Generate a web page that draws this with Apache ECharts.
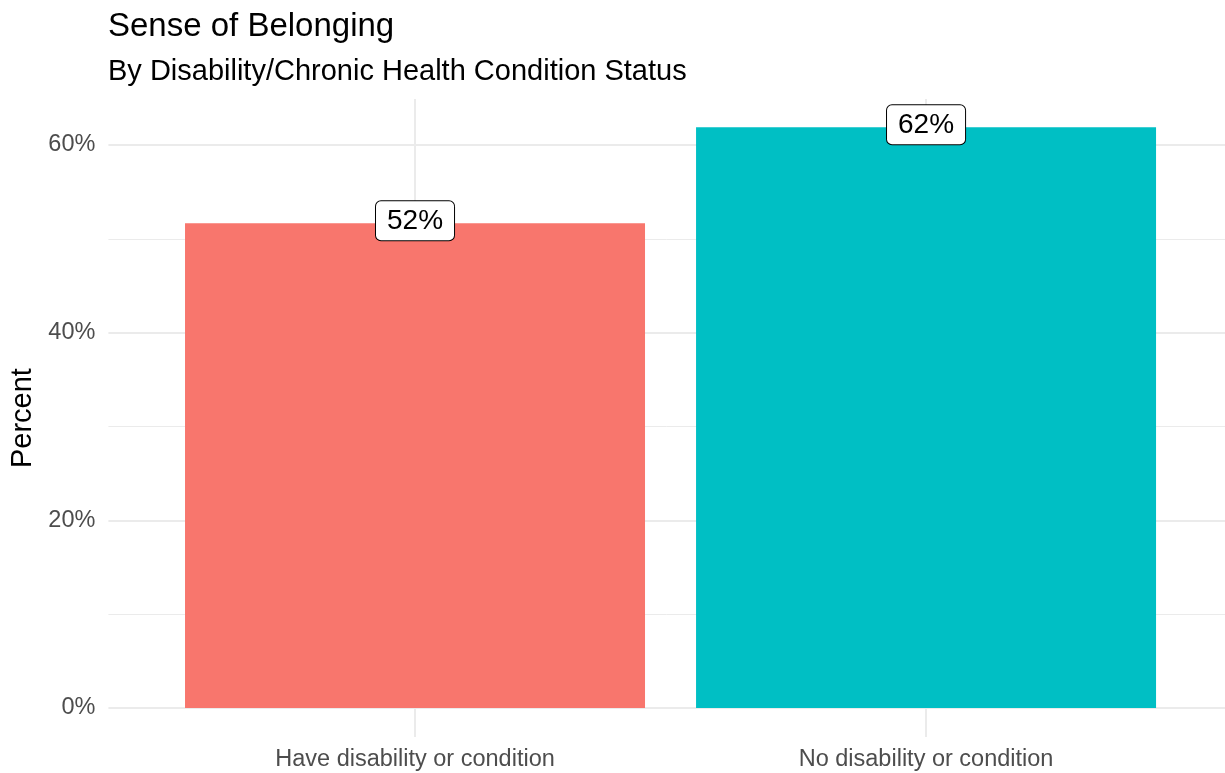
<!DOCTYPE html>
<html>
<head>
<meta charset="utf-8">
<script src="https://cdn.jsdelivr.net/npm/echarts@6/dist/echarts.min.js"></script>
<style>
  html, body { margin: 0; padding: 0; background: #fff; }
  #chart { width: 1225px; height: 773px; }
</style>
</head>
<body>
<div id="chart"></div>
<script>
// ---- data ----
const categories = ["Have disability or condition", "No disability or condition"];
const percentValues = [51.66, 61.89];
const yTickValues = [0, 20, 40, 60];
const yMinorValues = [10, 30, 50];

const barColors = ["#F8766D", "#00BFC4"];
const FONT = "Liberation Sans, Arial, Helvetica, sans-serif";

const chart = echarts.init(document.getElementById('chart'), null, { renderer: 'canvas' });

const gridLines = [];
yTickValues.forEach(v => gridLines.push({ yAxis: v, lineStyle: { color: '#ebebeb', width: 2, type: 'solid' } }));
yMinorValues.forEach(v => gridLines.push({ yAxis: v, lineStyle: { color: '#ebebeb', width: 1, type: 'solid' } }));
categories.forEach((c, i) => gridLines.push({ xAxis: i + 1, lineStyle: { color: '#ebebeb', width: 2, type: 'solid' } }));

const option = {
  backgroundColor: '#ffffff',
  animation: false,
  title: [
    { text: 'Sense of Belonging', left: 108, top: 10, padding: 0,
      textStyle: { fontFamily: FONT, fontSize: 33, fontWeight: 'normal', color: '#000' } },
    { text: 'By Disability/Chronic Health Condition Status', left: 108, top: 57, padding: 0,
      textStyle: { fontFamily: FONT, fontSize: 29, fontWeight: 'normal', color: '#000' } }
  ],
  grid: { left: 108.4, right: 0, top: 99.1, bottom: 36, containLabel: false, outerBoundsMode: 'none' },
  xAxis: {
    type: 'value', min: 0.4, max: 2.585,
    axisLine: { show: false }, axisTick: { show: false }, splitLine: { show: false },
    axisLabel: {
      customValues: categories.map((c, i) => i + 1),
      formatter: v => categories[Math.round(v) - 1] || '',
      fontFamily: FONT, fontSize: 23.5, color: '#4d4d4d', margin: 11
    }
  },
  yAxis: {
    type: 'value', min: -3.09, max: 64.89,
    name: 'Percent', nameLocation: 'middle', nameRotate: 90, nameGap: 70,
    nameTextStyle: { fontFamily: FONT, fontSize: 29, color: '#000' },
    axisLine: { show: false }, axisTick: { show: false }, splitLine: { show: false },
    axisLabel: {
      customValues: yTickValues,
      formatter: v => v + '%',
      fontFamily: FONT, fontSize: 23.5, color: '#4d4d4d', margin: 13
    }
  },
  series: [
    {
      type: 'line', data: [], z: 0,
      markLine: {
        silent: true, z: 0, symbol: ['none', 'none'], animation: false,
        label: { show: false }, emphasis: { disabled: true },
        data: gridLines
      }
    },
    {
      type: 'bar', z: 2, barWidth: 460,
      data: percentValues.map((v, i) => ({ value: [i + 1, v], itemStyle: { color: barColors[i] } })),
      label: {
        show: true, position: 'top', distance: -17,
        formatter: p => Math.round(p.value[1]) + '%',
        fontFamily: FONT, fontSize: 28, color: '#000',
        backgroundColor: '#fff', borderColor: '#000', borderWidth: 1, borderRadius: 5,
        padding: [6, 11, 5, 11]
      }
    }
  ]
};
chart.setOption(option);
</script>
</body>
</html>
